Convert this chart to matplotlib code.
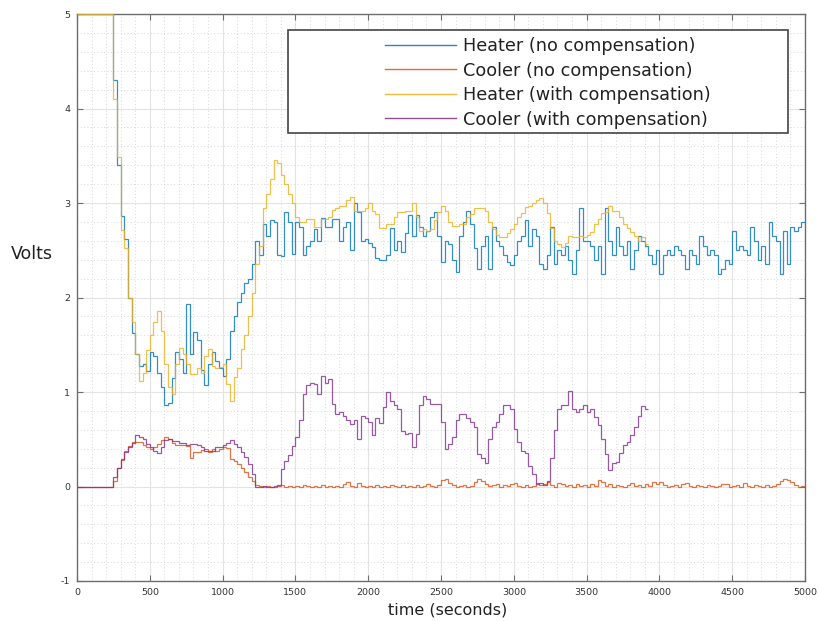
import matplotlib
matplotlib.use('Agg')
import matplotlib.pyplot as plt
from matplotlib.patches import Rectangle
from matplotlib.ticker import MultipleLocator
import numpy as np

plt.rcParams['axes.unicode_minus'] = False

# ---- data (25 s sample bins) ----
DT = 25

heater_no_comp = [
    5.0, 5.0, 5.0, 5.0, 5.0, 5.0, 5.0, 5.0, 5.0, 5.0,
    4.3, 3.4, 2.86, 2.62, 2.0, 1.62, 1.4, 1.27, 1.3, 1.22,
    1.42, 1.38, 1.2, 1.05, 0.86, 0.88, 1.15, 1.42, 1.35, 1.2,
    1.93, 1.4, 1.63, 1.55, 1.23, 1.07, 1.3, 1.42, 1.33, 1.25,
    1.17, 1.35, 1.65, 1.8, 1.95, 2.05, 2.15, 2.2, 2.35, 2.6,
    2.45, 2.78, 2.65, 2.82, 2.8, 2.45, 2.44, 2.9, 2.8, 2.46,
    2.8, 2.75, 2.45, 2.55, 2.6, 2.73, 2.6, 2.84, 2.75, 2.75,
    2.83, 2.83, 2.6, 2.75, 2.8, 2.5, 3.0, 2.9, 2.6, 2.62,
    2.58, 2.53, 2.42, 2.4, 2.4, 2.45, 2.74, 2.5, 2.6, 2.48,
    2.68, 2.87, 2.65, 2.87, 2.75, 2.65, 2.7, 2.85, 2.9, 2.65,
    2.38, 2.6, 2.57, 2.4, 2.27, 2.65, 2.8, 2.92, 2.78, 2.52,
    2.3, 2.55, 2.65, 2.3, 2.75, 2.6, 2.55, 2.45, 2.38, 2.34,
    2.45, 2.6, 2.65, 2.82, 2.55, 2.72, 2.65, 2.35, 2.3, 2.45,
    2.75, 2.35, 2.5, 2.45, 2.55, 2.4, 2.25, 2.5, 2.95, 2.6,
    2.6, 2.55, 2.4, 2.55, 2.25, 2.95, 2.6, 2.45, 2.75, 2.55,
    2.45, 2.6, 2.3, 2.5, 2.65, 2.6, 2.55, 2.45, 2.35, 2.5,
    2.25, 2.45, 2.5, 2.45, 2.55, 2.5, 2.45, 2.3, 2.5, 2.45,
    2.35, 2.65, 2.55, 2.45, 2.5, 2.45, 2.25, 2.3, 2.4, 2.35,
    2.7, 2.5, 2.55, 2.5, 2.45, 2.75, 2.6, 2.4, 2.55, 2.35,
    2.8, 2.65, 2.6, 2.25, 2.7, 2.35, 2.75, 2.7, 2.75, 2.8,
]

cooler_no_comp = [
    0, 0, 0, 0, 0, 0, 0, 0, 0, 0,
    0.06, 0.2, 0.28, 0.38, 0.43, 0.47, 0.47, 0.47, 0.44, 0.42,
    0.40, 0.42, 0.45, 0.49, 0.52, 0.5, 0.46, 0.44, 0.44, 0.44,
    0.43, 0.3, 0.36, 0.37, 0.39, 0.40, 0.37, 0.40, 0.38, 0.40,
    0.42, 0.41, 0.29, 0.27, 0.24, 0.2, 0.15, 0.1, 0.06, 0.02,
    0.01, 0.0, 0.01, 0.0, 0.0, 0.01, 0.02, 0.0, 0.01, 0.0,
    0.01, 0.0, 0.02, 0.01, 0.0, 0.01, 0.0, 0.02, 0.0, 0.01,
    0.0, 0.01, 0.0, 0.03, 0.05, 0.01, 0.0, 0.04, 0.01, 0.0,
    0.01, 0.0, 0.02, 0.0, 0.01, 0.0, 0.02, 0.01, 0.0, 0.02,
    0.0, 0.01, 0.0, 0.02, 0.0, 0.01, 0.03, 0.01, 0.0, 0.02,
    0.07, 0.08, 0.04, 0.02, 0.0, 0.01, 0.02, 0.0, 0.01, 0.05,
    0.08, 0.06, 0.03, 0.01, 0.02, 0.03, 0.0, 0.02, 0.01, 0.03,
    0.04, 0.01, 0.0, 0.02, 0.0, 0.01, 0.04, 0.02, 0.03, 0.05,
    0.02, 0.0, 0.04, 0.03, 0.01, 0.02, 0.0, 0.03, 0.01, 0.02,
    0.0, 0.03, 0.01, 0.07, 0.05, 0.01, 0.03, 0.0, 0.02, 0.01,
    0.0, 0.02, 0.04, 0.01, 0.02, 0.0, 0.03, 0.01, 0.05, 0.03,
    0.05, 0.02, 0.0, 0.01, 0.02, 0.0, 0.03, 0.04, 0.01, 0.0,
    0.02, 0.01, 0.0, 0.02, 0.01, 0.0, 0.01, 0.03, 0.03, 0.0,
    0.01, 0.02, 0.0, 0.04, 0.01, 0.0, 0.02, 0.01, 0.0, 0.02,
    0.0, 0.01, 0.03, 0.06, 0.08, 0.07, 0.05, 0.02, 0.0, 0.01,
]

heater_comp = [
    5.0, 5.0, 5.0, 5.0, 5.0, 5.0, 5.0, 5.0, 5.0, 5.0,
    4.1, 3.49, 2.71, 2.52, 2.0, 1.74, 1.4, 1.12, 1.2, 1.44,
    1.6, 1.74, 1.86, 1.65, 1.3, 1.05, 0.98, 1.3, 1.47, 1.4,
    1.3, 1.19, 1.19, 1.25, 1.2, 1.38, 1.46, 1.27, 1.25, 1.26,
    1.3, 1.08, 0.9, 1.16, 1.25, 1.45, 1.6, 1.8, 2.05, 2.35,
    2.55, 2.95, 3.1, 3.25, 3.45, 3.42, 3.3, 3.2, 3.1, 3.0,
    2.85, 2.8, 2.8, 2.83, 2.83, 2.75, 2.75, 2.83, 2.83, 2.85,
    2.93, 2.95, 2.97, 2.97, 3.03, 3.06, 2.92, 2.92, 2.92, 2.95,
    3.0, 2.92, 2.88, 2.74, 2.74, 2.78, 2.78, 2.85, 2.9, 2.9,
    2.92, 2.92, 3.0, 2.85, 2.7, 2.72, 2.7, 2.72, 2.82, 2.9,
    2.97, 2.92, 2.8, 2.76, 2.76, 2.78, 2.78, 2.85, 2.88, 2.95,
    2.95, 2.95, 2.92, 2.8, 2.72, 2.66, 2.64, 2.64, 2.68, 2.72,
    2.78, 2.85, 2.89, 2.96, 2.97, 3.0, 3.03, 3.05, 3.0, 2.89,
    2.74, 2.6, 2.57, 2.53, 2.58, 2.65, 2.64, 2.64, 2.65, 2.64,
    2.66, 2.69, 2.78, 2.83, 2.89, 2.9, 2.97, 2.92, 2.92, 2.85,
    2.78, 2.74, 2.69, 2.65, 2.6, 2.64, 2.57,
]

cooler_comp = [
    0, 0, 0, 0, 0, 0, 0, 0, 0, 0,
    0.1, 0.2, 0.29, 0.36, 0.42, 0.46, 0.54, 0.52, 0.5, 0.45,
    0.42, 0.38, 0.35, 0.42, 0.49, 0.5, 0.48, 0.48, 0.46, 0.46,
    0.44, 0.45, 0.45, 0.44, 0.42, 0.38, 0.38, 0.38, 0.42, 0.42,
    0.44, 0.46, 0.49, 0.45, 0.42, 0.37, 0.31, 0.24, 0.13, 0.0,
    0.0, 0.01, 0.0, 0.0, 0.01, 0.02, 0.19, 0.27, 0.33, 0.43,
    0.52, 0.7, 0.98, 1.07, 1.1, 1.08, 0.98, 1.17, 1.1, 1.14,
    0.87, 0.77, 0.79, 0.75, 0.7, 0.66, 0.7, 0.5, 0.75, 0.72,
    0.68, 0.54, 0.73, 0.67, 0.84, 1.0, 0.9, 0.86, 0.82, 0.59,
    0.56, 0.57, 0.42, 0.56, 0.86, 0.96, 0.93, 0.87, 0.87, 0.87,
    0.68, 0.4, 0.45, 0.52, 0.7, 0.77, 0.77, 0.72, 0.68, 0.63,
    0.34, 0.3, 0.25, 0.5, 0.63, 0.68, 0.77, 0.86, 0.86, 0.82,
    0.61, 0.47, 0.38, 0.35, 0.22, 0.13, 0.03, 0.04, 0.02, 0.06,
    0.3, 0.6, 0.82, 0.86, 0.86, 1.01, 0.82, 0.79, 0.82, 0.86,
    0.79, 0.82, 0.74, 0.65, 0.5, 0.34, 0.17, 0.25, 0.26, 0.35,
    0.44, 0.47, 0.55, 0.63, 0.75, 0.85, 0.82,
]

labels = ['Heater (no compensation)', 'Cooler (no compensation)',
          'Heater (with compensation)', 'Cooler (with compensation)']
colors = ['#0072BD', '#D95319', '#EDB120', '#7E2F8E']
series = [heater_no_comp, cooler_no_comp, heater_comp, cooler_comp]

# ---- figure ----
W, H = 820, 621
fig = plt.figure(figsize=(W / 100, H / 100), dpi=100)
AX_L, AX_R, AX_T, AX_B = 77, 805, 14, 581
ax = fig.add_axes([AX_L / W, 1 - AX_B / H, (AX_R - AX_L) / W, (AX_B - AX_T) / H])

for vals, col, lab in zip(series, colors, labels):
    edges = np.arange(len(vals) + 1) * DT
    ax.stairs(vals, edges, baseline=None, color=col, linewidth=0.9,
              alpha=0.8, label=lab, zorder=3)

ax.set_xlim(0, 5000)
ax.set_ylim(-1, 5)
ax.xaxis.set_major_locator(MultipleLocator(500))
ax.xaxis.set_minor_locator(MultipleLocator(100))
ax.yaxis.set_major_locator(MultipleLocator(1))
ax.yaxis.set_minor_locator(MultipleLocator(0.2))

ax.grid(which='major', color='#e3e3e3', linewidth=0.8, linestyle='-')
ax.grid(which='minor', color='#cccccc', linewidth=0.6, linestyle=(0, (1, 3)))
ax.set_axisbelow(True)

for sp in ax.spines.values():
    sp.set_color('#6e6e6e')
    sp.set_linewidth(1.0)
ax.tick_params(which='major', direction='in', length=4, width=0.8,
               color='#6e6e6e', top=True, right=True,
               labelsize=6.8, labelcolor='#333333', pad=5)
ax.tick_params(which='minor', length=0, top=True, right=True)

# axis labels placed in figure pixels
fig.text(448 / W, 1 - 610 / H, 'time (seconds)', fontsize=11.5,
         color='#222222', ha='center', va='center')
fig.text(32 / W, 1 - 254 / H, 'Volts', fontsize=12.5,
         color='#222222', ha='center', va='center')

# legend: white box drawn by hand (Octave-style wide frame), entries on top
def ax_xy(px, py):
    return (px - AX_L) / (AX_R - AX_L), (AX_B - py) / (AX_B - AX_T)

x0, y1 = ax_xy(288, 30)
x1, y0 = ax_xy(788, 133)
ax.add_patch(Rectangle((x0, y0), x1 - x0, y1 - y0, transform=ax.transAxes,
                       facecolor='white', edgecolor='#444444', linewidth=1.2,
                       zorder=5))
lx, ly = ax_xy(385, 37)
leg = ax.legend(handles=[plt.Line2D([], [], color=c, linewidth=1.0, alpha=0.85)
                         for c in colors],
                labels=labels, loc='upper left', bbox_to_anchor=(lx, ly),
                frameon=False, fontsize=12.7, borderpad=0, borderaxespad=0,
                handlelength=4.0, handletextpad=0.4, labelspacing=0.37)
leg.set_zorder(6)
for t in leg.get_texts():
    t.set_color('#222222')

fig.savefig('out.png', dpi=100, facecolor='white')
